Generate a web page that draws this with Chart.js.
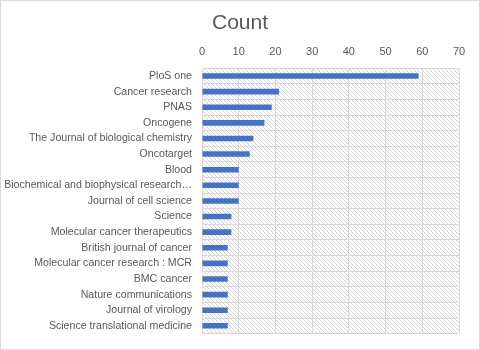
<!DOCTYPE html>
<html>
<head>
<meta charset="utf-8">
<script src="https://cdn.jsdelivr.net/npm/chart.js@4"></script>
<style>
  html, body { margin: 0; padding: 0; background: #fff; }
  #wrap { width: 480px; height: 350px; }
</style>
</head>
<body>
<div id="wrap"><canvas id="myChart" width="480" height="350"></canvas></div>
<script>
const journals = [
    'PloS one',
    'Cancer research',
    'PNAS',
    'Oncogene',
    'The Journal of biological chemistry',
    'Oncotarget',
    'Blood',
    'Biochemical and biophysical research…',
    'Journal of cell science',
    'Science',
    'Molecular cancer therapeutics',
    'British journal of cancer',
    'Molecular cancer research : MCR',
    'BMC cancer',
    'Nature communications',
    'Journal of virology',
    'Science translational medicine'
];

const counts = [59, 21, 19, 17, 14, 13, 10, 10, 10, 8, 8, 7, 7, 7, 7, 7, 7];

const xTicks = [0, 10, 20, 30, 40, 50, 60, 70];

// diagonal hatch for the plot area
function makeHatch(ctx) {
    const c = document.createElement('canvas');
    c.width = 4; c.height = 4;
    const g = c.getContext('2d');
    g.strokeStyle = '#d6d6d6';
    g.lineWidth = 1;
    g.beginPath();
    g.moveTo(-1, -1); g.lineTo(5, 5);
    g.stroke();
    return ctx.createPattern(c, 'repeat');
}

const hatchPlugin = {
    id: 'hatch',
    beforeDraw(chart) {
        const ctx = chart.ctx;
        const a = chart.chartArea;
        ctx.save();
        ctx.fillStyle = makeHatch(ctx);
        ctx.fillRect(a.left, a.top, a.right - a.left, a.bottom - a.top);
        ctx.restore();
    },
    afterDraw(chart) {
        const ctx = chart.ctx;
        ctx.save();
        ctx.strokeStyle = '#d9d9d9';
        ctx.lineWidth = 1;
        ctx.strokeRect(0.5, 0.5, chart.width - 1, chart.height - 1);
        ctx.restore();
    }
};

const data = {
    labels: journals,
    datasets: [{
        label: 'Count',
        data: counts,
        backgroundColor: '#4472C4',
        barPercentage: 0.55,
        categoryPercentage: 0.65
    }]
};

const config = {
    type: 'bar',
    data: data,
    options: {
        indexAxis: 'y',
        responsive: false,
        animation: false,
        layout: { padding: { left: 0, right: 0, top: 0, bottom: 15 } },
        plugins: {
            legend: { display: false },
            tooltip: { enabled: false },
            title: {
                display: true,
                text: 'Count',
                color: '#595959',
                font: { family: 'Liberation Sans', size: 21, weight: 'normal' },
                padding: { top: 11, bottom: 4 }
            }
        },
        scales: {
            x: {
                position: 'top',
                min: 0,
                max: 70,
                afterBuildTicks(axis) { axis.ticks = xTicks.map(v => ({ value: v })); },
                afterFit(axis) { axis.height = 28; },
                grid: { color: '#d9d9d9', drawTicks: false },
                border: { display: false },
                ticks: {
                    color: '#595959',
                    padding: 10,
                    font: { family: 'Liberation Sans', size: 11 }
                }
            },
            y: {
                afterFit(axis) { axis.width = 202; },
                grid: { color: '#d9d9d9', drawTicks: false },
                border: { color: '#d9d9d9' },
                ticks: {
                    color: '#595959',
                    padding: 10,
                    autoSkip: false,
                    font: { family: 'Liberation Sans', size: 10.6 }
                }
            },
            // empty spacer on the right so the title centres on the canvas
            spacer: {
                type: 'category',
                axis: 'y',
                position: 'right',
                afterFit(axis) { axis.width = 21; },
                grid: { display: false },
                border: { display: false },
                ticks: { display: false }
            }
        }
    },
    plugins: [hatchPlugin]
};

const myChart = new Chart(
    document.getElementById('myChart'),
    config
);
</script>
</body>
</html>
